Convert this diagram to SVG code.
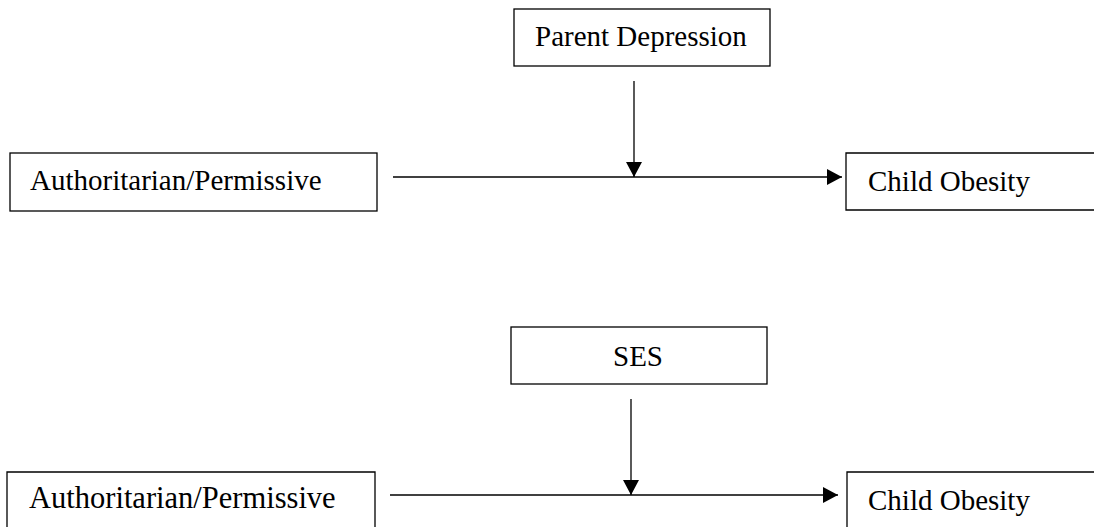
<svg xmlns="http://www.w3.org/2000/svg" width="1094" height="527" viewBox="0 0 1094 527">
<defs>
<style>
.box{fill:#fff;stroke:#000;stroke-width:1.3}
.t{font-family:"Liberation Serif","Times New Roman",serif;font-size:29px;fill:#000}
.c{fill:none;stroke:#000;stroke-width:1.3}
</style>
<marker id="ah" markerUnits="userSpaceOnUse" markerWidth="16" markerHeight="17" refX="15" refY="8" orient="auto" viewBox="0 0 16 17">
<path d="M0,0 L15,8 L0,16 Z" fill="#000"/>
</marker>
</defs>
<rect width="1094" height="527" fill="#fff"/>
<g id="connectors">
<line class="c" x1="634" y1="81" x2="634" y2="177" marker-end="url(#ah)"/>
<line class="c" x1="393" y1="177" x2="842" y2="177" marker-end="url(#ah)"/>
<line class="c" x1="631" y1="399" x2="631" y2="495" marker-end="url(#ah)"/>
<line class="c" x1="390" y1="495" x2="838" y2="495" marker-end="url(#ah)"/>
</g>
<g id="parent-depression">
<rect class="box" x="514" y="9" width="256" height="57"/>
<text class="t" x="535" y="46">Parent Depression</text>
</g>
<g id="auth-perm-1">
<rect class="box" x="10" y="153" width="367" height="58"/>
<text class="t" x="30" y="190">Authoritarian/Permissive</text>
</g>
<g id="child-obesity-1">
<path class="box" d="M1100,153 H846 V210 H1100"/>
<text class="t" x="868" y="191">Child Obesity</text>
</g>
<g id="ses">
<rect class="box" x="511" y="327" width="256" height="57"/>
<text class="t" x="638" y="366" text-anchor="middle">SES</text>
</g>
<g id="auth-perm-2">
<path class="box" d="M7,530 V472 H375 V530"/>
<text class="t" x="29" y="508" style="font-size:30.5px">Authoritarian/Permissive</text>
</g>
<g id="child-obesity-2">
<path class="box" d="M1100,472 H847 V530"/>
<text class="t" x="868" y="510">Child Obesity</text>
</g>
</svg>
